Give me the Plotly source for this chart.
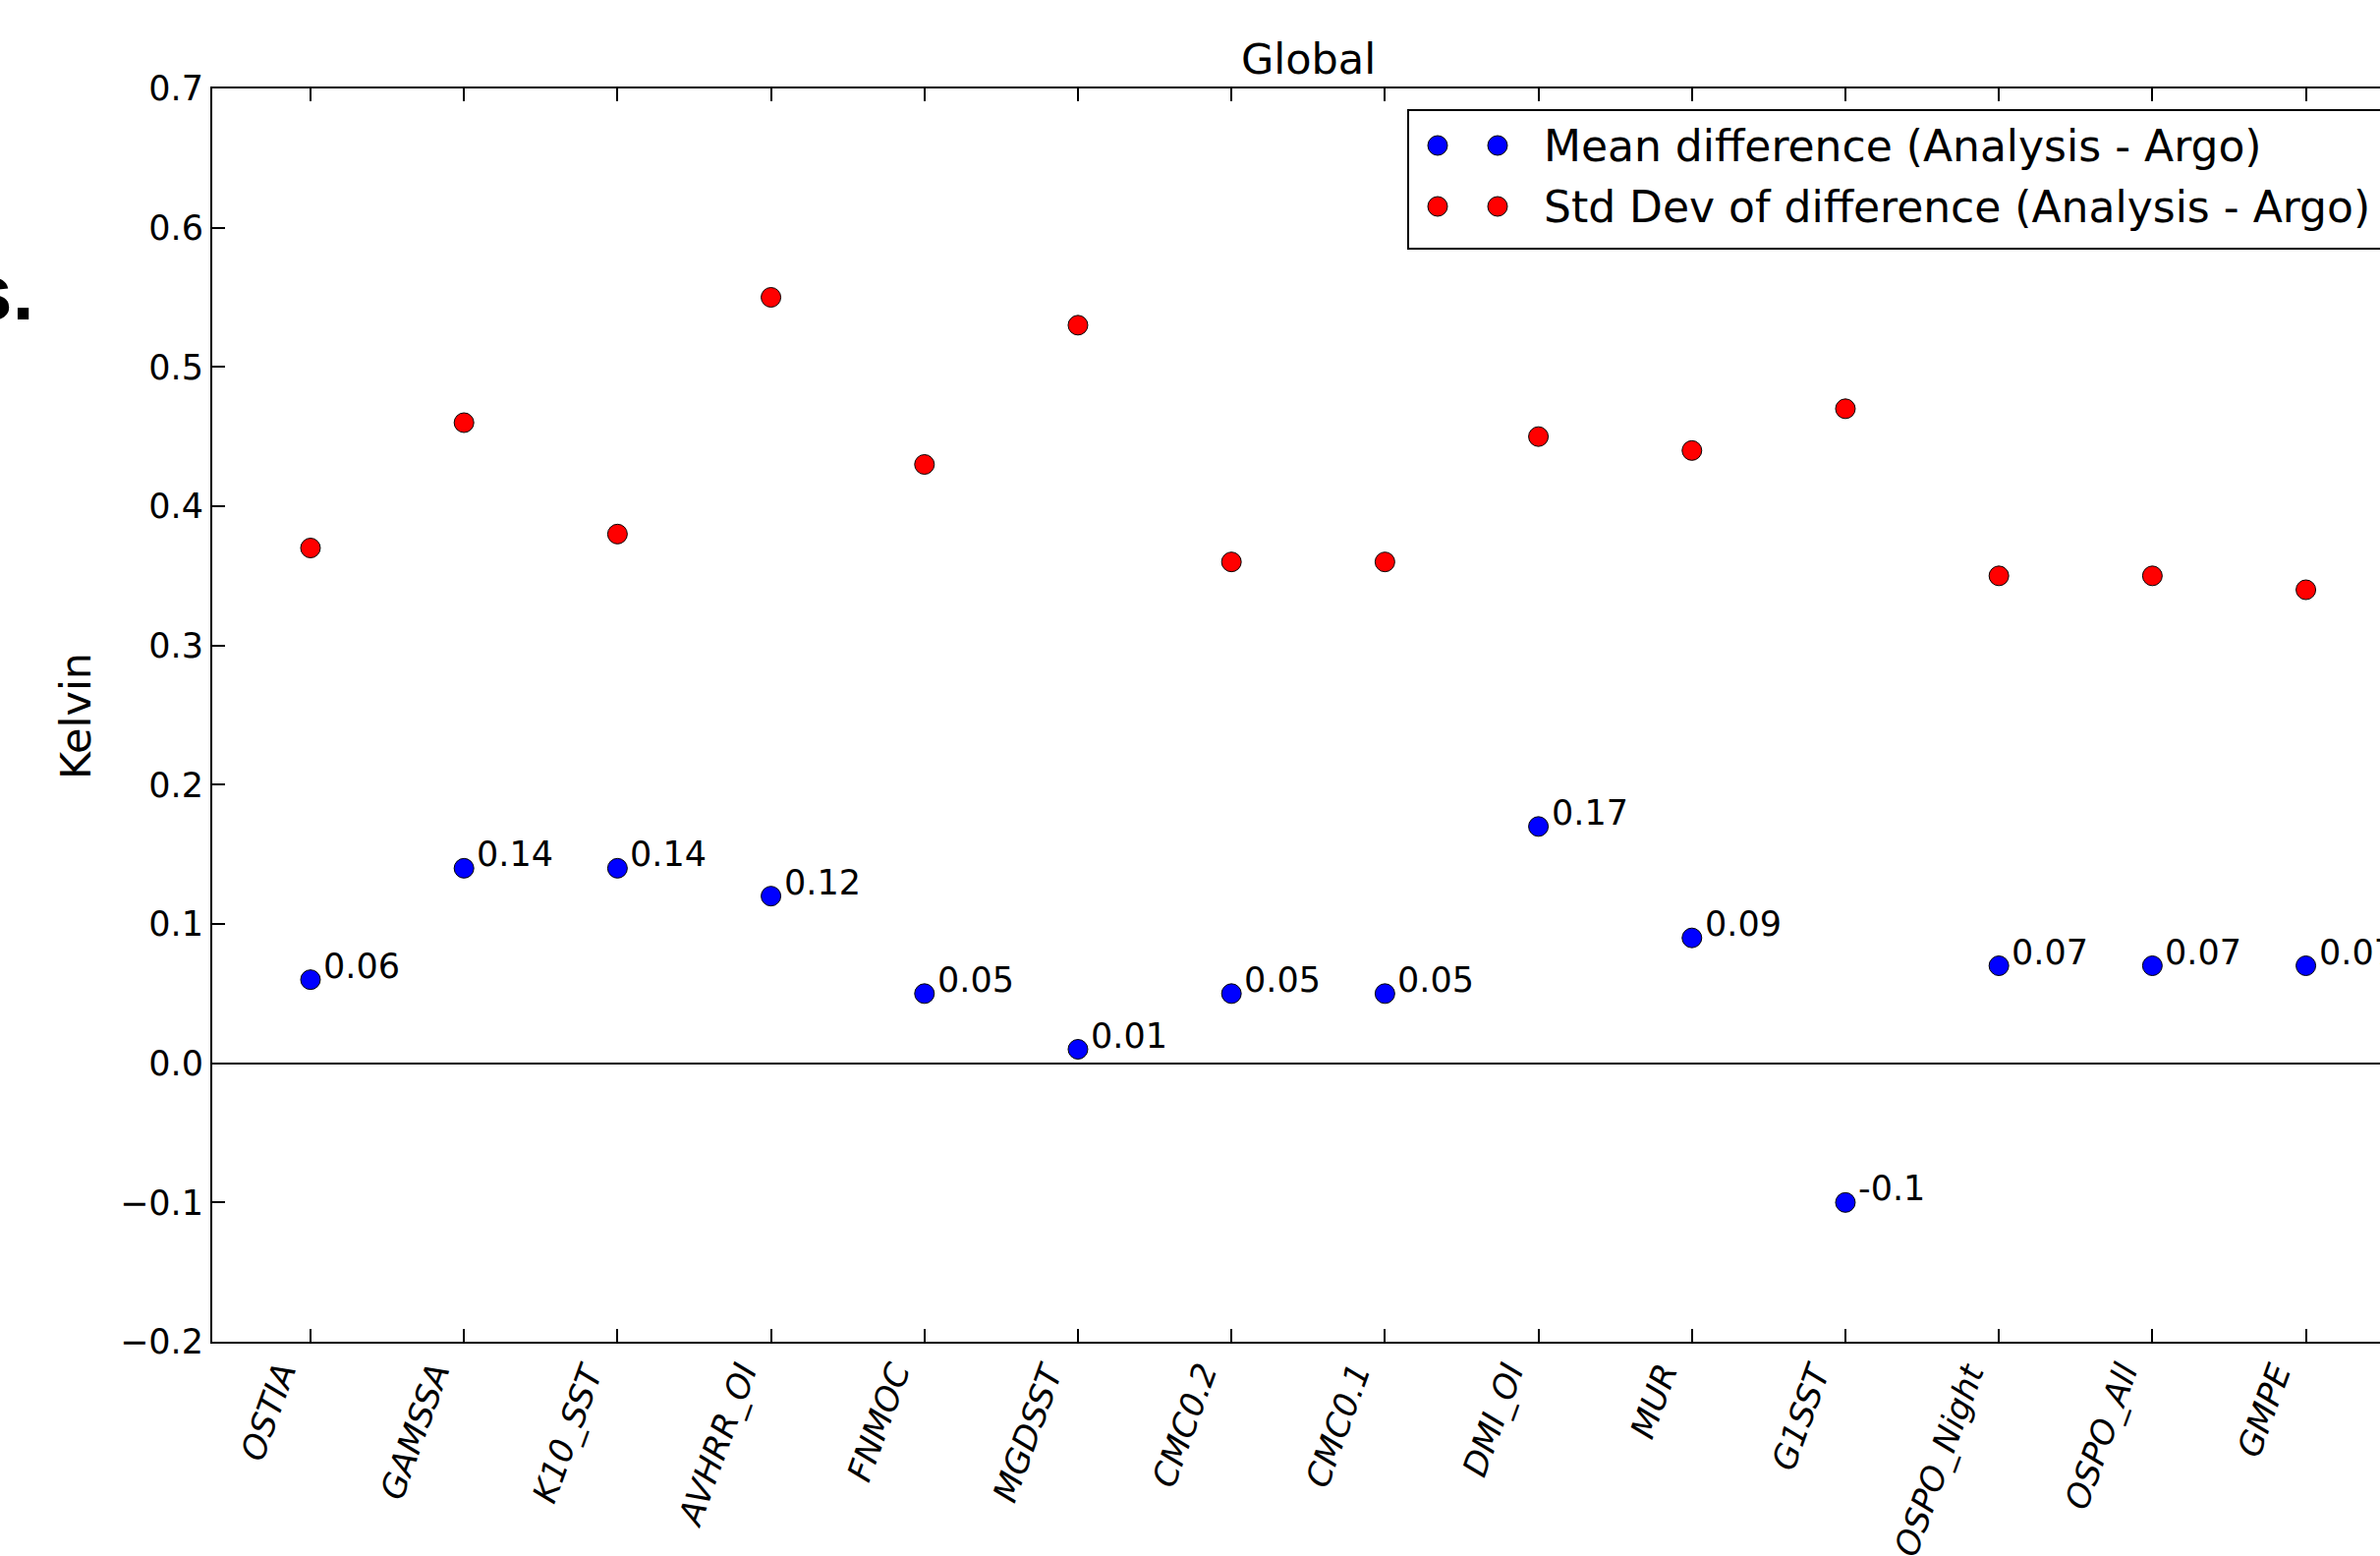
import plotly.graph_objects as go

# ---------------- data ----------------
categories = ["OSTIA", "GAMSSA", "K10_SST", "AVHRR_OI", "FNMOC", "MGDSST", "CMC0.2",
              "CMC0.1", "DMI_OI", "MUR", "G1SST", "OSPO_Night", "OSPO_All", "GMPE"]
mean_diff = [0.06, 0.14, 0.14, 0.12, 0.05, 0.01, 0.05, 0.05, 0.17, 0.09, -0.1, 0.07, 0.07, 0.07]
std_diff = [0.37, 0.46, 0.38, 0.55, 0.43, 0.53, 0.36, 0.36, 0.45, 0.44, 0.47, 0.35, 0.35, 0.34]
y_tick_vals = [-0.2, -0.1, 0.0, 0.1, 0.2, 0.3, 0.4, 0.5, 0.6, 0.7]
y_tick_text = ["\u22120.2", "\u22120.1", "0.0", "0.1", "0.2", "0.3", "0.4", "0.5", "0.6", "0.7"]
series_names = ["Mean difference (Analysis - Argo)", "Std Dev of difference (Analysis - Argo)"]
title_text = "Global"
y_label = "Kelvin"

# ---------------- geometry (pixels) ----------------
W, H = 2422, 1583
L, T, B = 216, 90, 1365          # plot area left / top / bottom
R = W                            # plot area runs to the page edge (right side cropped)
unit = 156.2                     # px per category
x0 = -0.64
x1 = x0 + (R - L) / unit

FONT = "DejaVu Sans"
idx = list(range(len(categories)))


def px_x(p):
    return (p - L) / (R - L)


def px_y(p):
    return (B - p) / (B - T)


fig = go.Figure()
fig.add_trace(go.Scatter(x=idx, y=mean_diff, mode="markers", name=series_names[0],
                         marker=dict(color="#0000ff", size=20, line=dict(color="#000000", width=1)),
                         showlegend=False))
fig.add_trace(go.Scatter(x=idx, y=std_diff, mode="markers", name=series_names[1],
                         marker=dict(color="#ff0000", size=20, line=dict(color="#000000", width=1)),
                         showlegend=False))

annotations = []
# value labels next to mean points
for i, v in zip(idx, mean_diff):
    annotations.append(dict(x=i, y=v, xref="x", yref="y", text=str(v), showarrow=False,
                            xanchor="left", yanchor="middle", xshift=11, yshift=14,
                            font=dict(family=FONT, size=35, color="black")))
# rotated category labels
for i, c in zip(idx, categories):
    annotations.append(dict(x=i, y=px_y(B + 14), xref="x", yref="paper", text=c, showarrow=False,
                            textangle=-70, xanchor="right", yanchor="top", xshift=-4,
                            font=dict(family=FONT, size=34, color="black", style="italic")))
# title
annotations.append(dict(x=px_x(1331), y=px_y(60), xref="paper", yref="paper", text=title_text,
                        showarrow=False, xanchor="center", yanchor="middle",
                        font=dict(family=FONT, size=43, color="black")))
# y label
annotations.append(dict(x=px_x(77), y=px_y(729), xref="paper", yref="paper", text=y_label,
                        showarrow=False, textangle=-90, xanchor="center", yanchor="middle",
                        font=dict(family=FONT, size=43, color="black")))
# cropped bold fragment at left
annotations.append(dict(x=px_x(37), y=px_y(298), xref="paper", yref="paper", text="<b>s.</b>",
                        showarrow=False, xanchor="right", yanchor="middle",
                        font=dict(family="Liberation Sans", size=80, color="black")))

shapes = []
# legend box
shapes.append(dict(type="rect", xref="paper", yref="paper",
                   x0=px_x(1433), x1=px_x(W + 40), y0=px_y(253), y1=px_y(112),
                   line=dict(color="black", width=2), fillcolor="white", layer="above"))
legend_rows = [148, 210]
legend_colors = ["#0000ff", "#ff0000"]
for ry, col, name in zip(legend_rows, legend_colors, series_names):
    for cx in (1463, 1524):
        shapes.append(dict(type="circle", xref="paper", yref="paper",
                           x0=px_x(cx - 10), x1=px_x(cx + 10), y0=px_y(ry + 10), y1=px_y(ry - 10),
                           line=dict(color="black", width=1), fillcolor=col, layer="above"))
    annotations.append(dict(x=px_x(1569), y=px_y(ry), xref="paper", yref="paper", text=name,
                            showarrow=False, xanchor="left", yanchor="middle",
                            font=dict(family=FONT, size=44, color="black")))

fig.update_layout(
    width=W, height=H,
    margin=dict(l=L, r=W - R, t=T, b=H - B, pad=0),
    paper_bgcolor="white", plot_bgcolor="white",
    showlegend=False,
    annotations=annotations,
    shapes=shapes,
    xaxis=dict(range=[x0, x1], tickvals=idx, showticklabels=False, ticks="inside", ticklen=13,
               tickwidth=1.5, tickcolor="black", showline=True, linecolor="black", linewidth=2,
               mirror="ticks", showgrid=False, zeroline=False),
    yaxis=dict(range=[-0.2, 0.7], tickvals=y_tick_vals, ticktext=y_tick_text, ticks="inside",
               ticklen=13, tickwidth=1.5, tickcolor="black", showline=True, linecolor="black",
               linewidth=2, mirror=False, showgrid=False, zeroline=True, zerolinecolor="black",
               zerolinewidth=2, tickfont=dict(family=FONT, size=35, color="black")),
)

fig.write_html("out.html", config={"displayModeBar": False},
               post_script="document.body.style.margin='0';document.body.style.overflow='hidden';")
